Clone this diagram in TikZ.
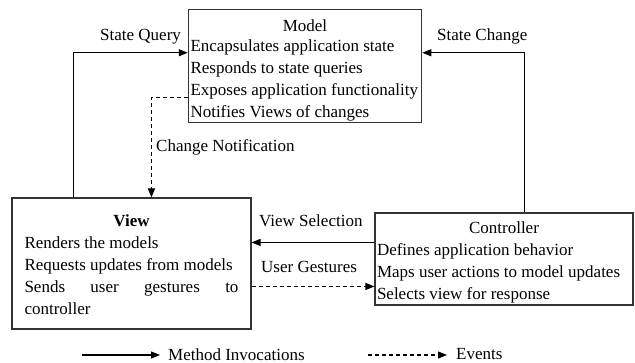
\documentclass[tikz,border=0pt]{standalone}
\usepackage{fontspec}
\setmainfont{Liberation Serif}
\usetikzlibrary{arrows.meta,calc}
\begin{document}
\begin{tikzpicture}[x=1pt,y=-1pt,
  txt/.style={font=\fontsize{17}{22}\selectfont},
  box/.style={draw=black!80, line width=1.1pt, txt, align=center, inner sep=0pt},
  lbl/.style={txt, anchor=base west, inner sep=0pt},
  conn/.style={line width=1.1pt, -{Triangle[length=9pt,width=7pt]}},
  evt/.style={conn, dash pattern=on 4pt off 3pt},
]
\useasboundingbox (0,0) rectangle (635,363);
% boxes
\node[box, minimum width=233.4pt, minimum height=113pt] (model) at (305,65.8)
  {\rule{0pt}{21.6pt}\makebox[229pt]{Model}\\[-2pt]
   \makebox[229pt][l]{Encapsulates application state}\\
   \makebox[229pt][l]{Responds to state queries}\\
   \makebox[229pt][l]{Exposes application functionality}\\
   \makebox[229pt][l]{Notifies Views of changes}};
\node[box, minimum width=239pt, minimum height=131pt] (view) at (131.5,263.5)
  {\rule{0pt}{13.6pt}\makebox[214pt]{\textbf{View}}\\
   \makebox[214pt][l]{Renders the models}\\
   \makebox[214pt][l]{Requests updates from models}\\
   \makebox[214pt][s]{Sends user gestures to}\\
   \makebox[214pt][l]{controller}};
\node[box, minimum width=258pt, minimum height=92pt] (ctrl) at (504,259)
  {\rule{0pt}{18.6pt}\makebox[254pt]{Controller}\\
   \makebox[254pt][l]{Defines application behavior}\\
   \makebox[254pt][l]{Maps user actions to model updates}\\
   \makebox[254pt][l]{Selects view for response}};
% labels
\node[lbl] (sq) at (100,41) {State Query};
\node[lbl] (sc) at (437,41) {State Change};
\node[lbl] (cn) at (156,152) {Change Notification};
\node[lbl] (vs) at (259,227) {View Selection};
\node[lbl] (ug) at (261,273) {User Gestures};
% connectors
\draw[conn] ([xshift=62pt]view.north west) |- ([yshift=-44pt]model.north west);
\draw[conn] ([xshift=-109pt]ctrl.north east) |- ([yshift=-44pt]model.north east);
\draw[evt] ([yshift=-89pt]model.north west) -| ([xshift=140pt]view.north west);
\draw[conn] ([yshift=-30pt]ctrl.north west) -- ([yshift=-30pt]ctrl.north west -| view.east);
\draw[evt] ([yshift=-89pt]view.north east) -- ([yshift=-89pt]view.north east -| ctrl.west);
% legend
\node[lbl] (mi) at (168,360.5) {Method Invocations};
\node[lbl] (ev) at (456,360) {Events};
\coordinate (mis) at (82,355);
\coordinate (evs) at (368,355);
\draw[conn] (mis) -- ($(mis -| mi.west)+(-8,0)$);
\draw[evt] (evs) -- ($(evs -| ev.west)+(-9,0)$);
\end{tikzpicture}
\end{document}
